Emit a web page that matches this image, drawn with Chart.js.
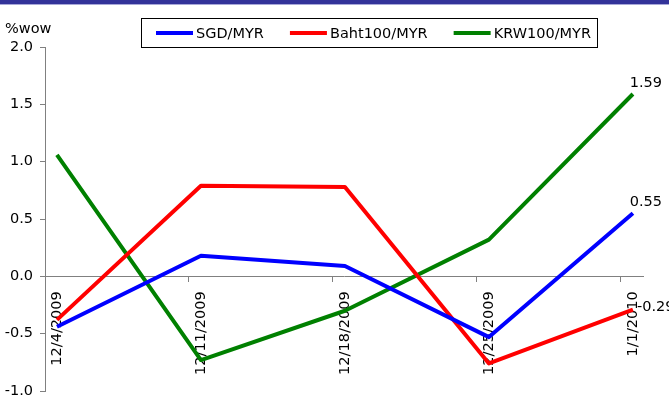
<!DOCTYPE html>
<html>
<head>
<meta charset="utf-8">
<script src="https://cdn.jsdelivr.net/npm/chart.js@4.4.1/dist/chart.umd.min.js"></script>
<style>
  html, body { margin: 0; padding: 0; background: #fff; }
  #wrap { width: 669px; height: 397px; position: relative; }
</style>
</head>
<body>
<div id="wrap"><canvas id="c" width="669" height="397"></canvas></div>
<script>
// Weekly % change of ringgit cross rates
const categories = ['12/4/2009', '12/11/2009', '12/18/2009', '12/25/2009', '1/1/2010'];
const sgdMyr  = [-0.44, 0.18, 0.09, -0.53, 0.55];
const bahtMyr = [-0.38, 0.79, 0.78, -0.76, -0.29];
const krwMyr  = [1.06, -0.73, -0.30, 0.32, 1.59];
const yTicks  = [-1.0, -0.5, 0.0, 0.5, 1.0, 1.5, 2.0];

const FONT = 'DejaVu Sans';
const FS = 14.5;
const TICK_SHIFT = 0.083; // tick marks sit a little left of each date

const toPoints = arr => arr.map((v, i) => ({ x: i, y: v }));

const series = [
  { label: 'SGD/MYR',     data: sgdMyr,  color: '#0000FF' },
  { label: 'Baht100/MYR', data: bahtMyr, color: '#FF0000' },
  { label: 'KRW100/MYR',  data: krwMyr,  color: '#008000' }
];

// header band and unit caption
const frame = {
  id: 'frame',
  beforeDraw(chart) {
    const ctx = chart.ctx;
    ctx.save();
    ctx.fillStyle = '#333399';
    ctx.fillRect(0, 0, chart.width, 4);
    ctx.fillStyle = '#A8A8D8';
    ctx.fillRect(0, 4, chart.width, 1);
    ctx.fillStyle = '#000';
    ctx.font = FS + 'px "' + FONT + '"';
    ctx.textAlign = 'left';
    ctx.textBaseline = 'alphabetic';
    ctx.fillText('%wow', 5, 33);
    ctx.restore();
  }
};

// boxed legend above the plot
const boxLegend = {
  id: 'boxLegend',
  afterDraw(chart) {
    const ctx = chart.ctx;
    ctx.save();
    ctx.font = FS + 'px "' + FONT + '"';
    ctx.textBaseline = 'middle';
    ctx.textAlign = 'left';
    const lineLen = 37, gap = 3, itemGap = 26, y = 34;
    let x = 156;
    chart.data.datasets.forEach((ds) => {
      ctx.strokeStyle = ds.borderColor;
      ctx.lineWidth = 4;
      ctx.beginPath();
      ctx.moveTo(x, y - 1);
      ctx.lineTo(x + lineLen, y - 1);
      ctx.stroke();
      x += lineLen + gap;
      ctx.fillStyle = '#000';
      ctx.fillText(ds.label, x, y);
      x += ctx.measureText(ds.label).width + itemGap;
    });
    ctx.strokeStyle = '#000';
    ctx.lineWidth = 1;
    ctx.strokeRect(141.5, 18.5, 456, 29);
    ctx.restore();
  }
};

// value labels on the latest week
const endLabels = {
  id: 'endLabels',
  afterDatasetsDraw(chart) {
    const ctx = chart.ctx;
    ctx.save();
    ctx.font = FS + 'px "' + FONT + '"';
    ctx.fillStyle = '#000';
    chart.data.datasets.forEach((ds, di) => {
      const meta = chart.getDatasetMeta(di);
      const last = meta.data.length - 1;
      const pt = meta.data[last];
      const v = ds.data[last].y;
      const txt = v.toFixed(2);
      if (v < 0) {
        ctx.textAlign = 'left';
        ctx.textBaseline = 'middle';
        ctx.fillText(txt, pt.x + 4, pt.y - 2);
      } else {
        ctx.textAlign = 'center';
        ctx.textBaseline = 'alphabetic';
        ctx.fillText(txt, pt.x + 13, pt.y - 7);
      }
    });
    ctx.restore();
  }
};

new Chart(document.getElementById('c'), {
  type: 'line',
  data: {
    datasets: series.map(s => ({
      label: s.label,
      data: toPoints(s.data),
      borderColor: s.color,
      backgroundColor: s.color,
      borderWidth: 4,
      pointRadius: 0,
      tension: 0,
      borderJoinStyle: 'round',
      fill: false
    }))
  },
  options: {
    responsive: false,
    animation: false,
    events: [],
    layout: { padding: { left: 0, top: 47, right: 26, bottom: 6 } },
    plugins: {
      legend: { display: false },
      tooltip: { enabled: false }
    },
    scales: {
      x: {
        type: 'linear',
        position: { y: 0 },
        min: -TICK_SHIFT,
        max: 4.07,
        afterBuildTicks(scale) {
          scale.ticks = categories.map((_, i) => ({ value: i - TICK_SHIFT }));
        },
        afterFit(scale) {
          scale.height = 0;
          scale.paddingLeft = 0;
          scale.paddingRight = 0;
        },
        grid: { drawOnChartArea: false, color: '#808080', tickLength: 5 },
        border: { color: '#808080', width: 1 },
        ticks: {
          autoSkip: false,
          minRotation: 90,
          maxRotation: 90,
          labelOffset: 12,
          padding: 10,
          color: '#000',
          font: { family: FONT, size: FS },
          callback: (v, i) => categories[i]
        }
      },
      y: {
        type: 'linear',
        min: yTicks[0],
        max: yTicks[yTicks.length - 1],
        afterBuildTicks(scale) {
          scale.ticks = yTicks.map(v => ({ value: v }));
        },
        afterFit(scale) {
          scale.width = 45;
          scale.paddingTop = 0;
          scale.paddingBottom = 0;
        },
        grid: { drawOnChartArea: false, color: '#808080', tickLength: 5 },
        border: { color: '#808080', width: 1 },
        ticks: {
          padding: 7,
          color: '#000',
          font: { family: FONT, size: FS },
          callback: v => Number(v).toFixed(1)
        }
      }
    }
  },
  plugins: [frame, boxLegend, endLabels]
});
</script>
</body>
</html>
